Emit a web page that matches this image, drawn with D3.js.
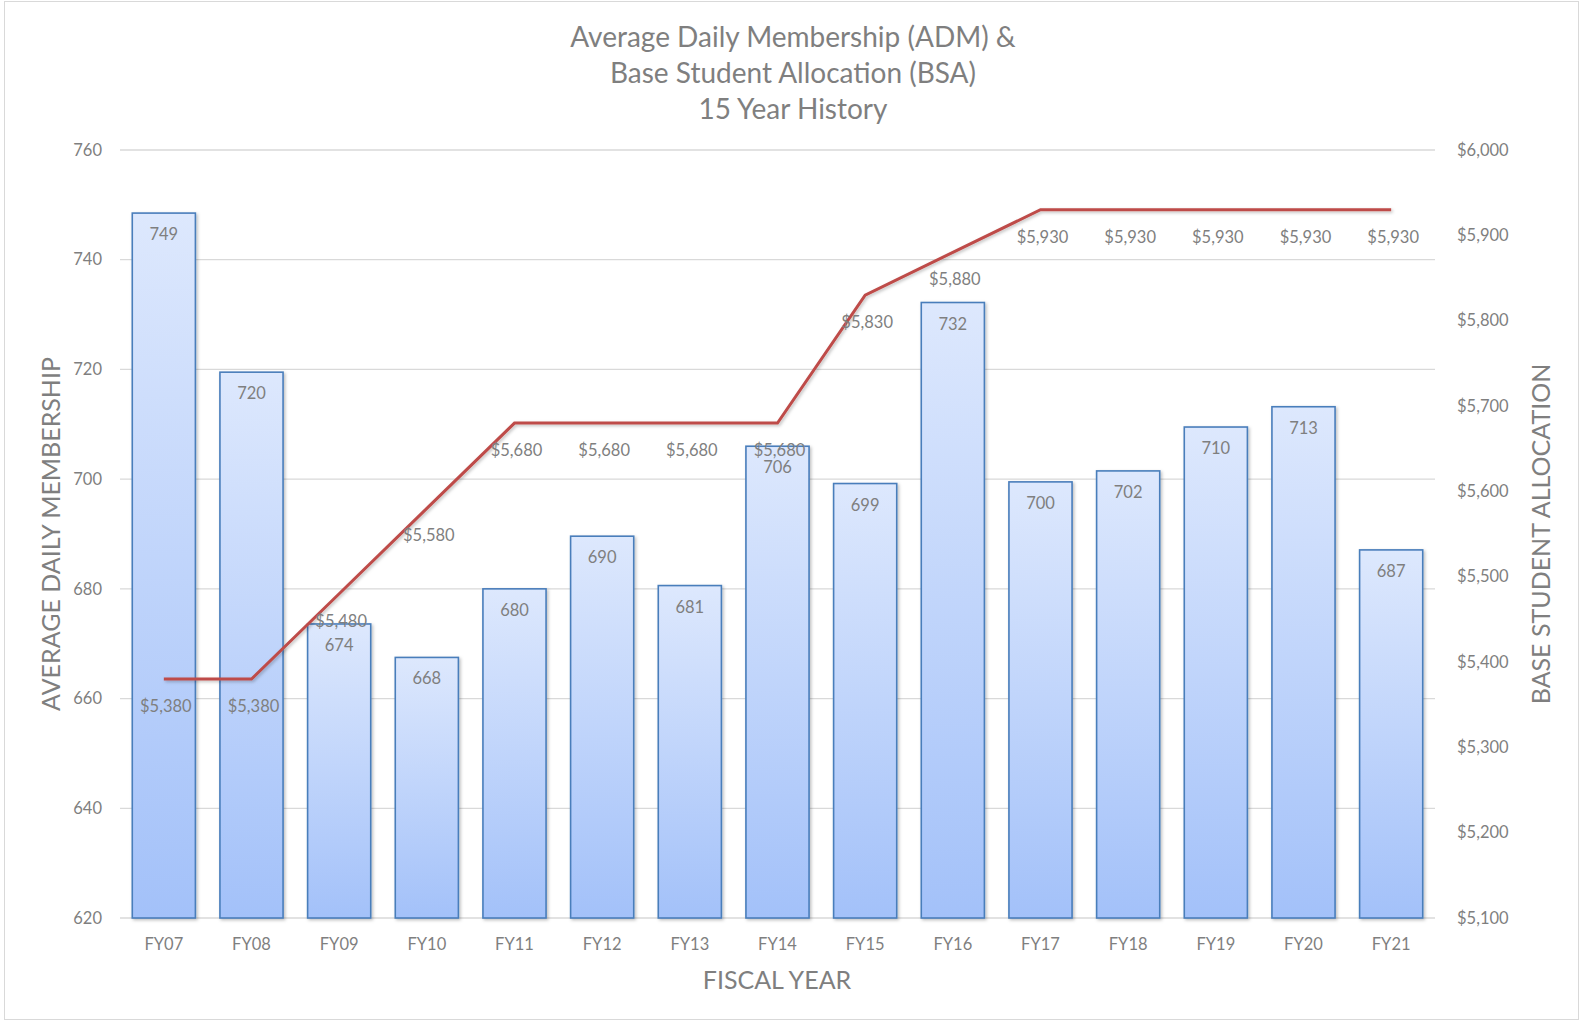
<!DOCTYPE html>
<html>
<head>
<meta charset="utf-8">
<script src="https://cdn.jsdelivr.net/npm/d3@7"></script>
<style>
  body { margin: 0; background: #fff; }
  text { font-family: Lato, "Open Sans", sans-serif; fill: #7f7f7f; }
</style>
</head>
<body>
<div class="container"></div>
<script>
const years = ["FY07","FY08","FY09","FY10","FY11","FY12","FY13","FY14","FY15","FY16","FY17","FY18","FY19","FY20","FY21"];
// ADM values (labels show them rounded)
const adm = [748.5, 719.5, 673.6, 667.5, 680.0, 689.6, 680.6, 706.0, 699.2, 732.2, 699.5, 701.5, 709.5, 713.2, 687.1];
const bsa = [5380, 5380, 5480, 5580, 5680, 5680, 5680, 5680, 5830, 5880, 5930, 5930, 5930, 5930, 5930];
const leftTicks = [620, 640, 660, 680, 700, 720, 740, 760];
const rightTicks = [5100, 5200, 5300, 5400, 5500, 5600, 5700, 5800, 5900, 6000];
const titleLines = ["Average Daily Membership (ADM) &", "Base Student Allocation (BSA)", "15 Year History"];

const W = 1583, H = 1022;
const margin = {top: 150, right: 148, bottom: 104, left: 120};
const width = W - margin.left - margin.right;
const height = H - margin.top - margin.bottom;

const svg = d3.select(".container")
  .append("svg")
    .attr("width", W)
    .attr("height", H);

const defs = svg.append("defs");
const grad = defs.append("linearGradient")
  .attr("id", "barGrad")
  .attr("x1", 0).attr("y1", 0).attr("x2", 0).attr("y2", 1);
grad.append("stop").attr("offset", "0%").attr("stop-color", "#dde8fd");
grad.append("stop").attr("offset", "100%").attr("stop-color", "#a3c1f9");

const shadow = defs.append("filter").attr("id", "shadow")
  .attr("x", "-20%").attr("y", "-20%").attr("width", "140%").attr("height", "140%");
shadow.append("feDropShadow")
  .attr("dx", 1.5).attr("dy", 1.5).attr("stdDeviation", 1.5)
  .attr("flood-color", "#000").attr("flood-opacity", 0.25);

// outer border
svg.append("rect")
  .attr("x", 4.5).attr("y", 1.5)
  .attr("width", 1574).attr("height", 1018)
  .attr("fill", "none")
  .attr("stroke", "#d9d9d9");

const g = svg.append("g")
  .attr("transform", "translate(" + margin.left + "," + margin.top + ")");

const x = d3.scaleBand()
  .domain(years)
  .range([0, width])
  .paddingInner(0.28)
  .paddingOuter(0.14);

const yL = d3.scaleLinear().domain([620, 760]).range([height, 0]);
const yR = d3.scaleLinear().domain([5100, 6000]).range([height, 0]);

// gridlines
g.append("g")
  .selectAll("line")
  .data(leftTicks)
  .join("line")
    .attr("x1", 0).attr("x2", width)
    .attr("y1", d => yL(d)).attr("y2", d => yL(d))
    .attr("stroke", "#d9d9d9")
    .attr("stroke-width", 1.3);

// left axis
const axL = g.append("g")
  .call(d3.axisLeft(yL).tickValues(leftTicks).tickSize(0).tickPadding(18));
axL.select(".domain").remove();
axL.selectAll("text").style("font-size", "16.5px").attr("fill", "#7f7f7f");

// right axis
const axR = g.append("g")
  .attr("transform", "translate(" + width + ",0)")
  .call(d3.axisRight(yR).tickValues(rightTicks).tickSize(0).tickPadding(22)
    .tickFormat(d => "$" + d3.format(",")(d)));
axR.select(".domain").remove();
axR.selectAll("text").style("font-size", "16.5px").attr("fill", "#7f7f7f");

// bottom axis
const axB = g.append("g")
  .attr("transform", "translate(0," + height + ")")
  .call(d3.axisBottom(x).tickSize(0).tickPadding(20));
axB.select(".domain").remove();
axB.selectAll("text").style("font-size", "16.5px").attr("fill", "#7f7f7f");

// bars
g.append("g")
  .selectAll("rect")
  .data(adm)
  .join("rect")
    .attr("x", (d, i) => x(years[i]))
    .attr("y", d => yL(d))
    .attr("width", x.bandwidth())
    .attr("height", d => height - yL(d))
    .attr("fill", "url(#barGrad)")
    .attr("stroke", "#4a7ebb")
    .attr("stroke-width", 1.6)
    .attr("filter", "url(#shadow)");

g.append("g")
  .selectAll("text")
  .data(adm)
  .join("text")
    .attr("x", (d, i) => x(years[i]) + x.bandwidth() / 2)
    .attr("y", d => yL(d) + 21)
    .attr("text-anchor", "middle")
    .attr("dominant-baseline", "central")
    .style("font-size", "16.5px")
    .text(d => Math.round(d));

// BSA line
const line = d3.line()
  .x((d, i) => x(years[i]) + x.bandwidth() / 2)
  .y(d => yR(d));

g.append("path")
  .datum(bsa)
  .attr("d", line)
  .attr("fill", "none")
  .attr("stroke", "#be4b48")
  .attr("stroke-width", 3)
  .attr("filter", "url(#shadow)");

g.append("g")
  .selectAll("text")
  .data(bsa)
  .join("text")
    .attr("x", (d, i) => x(years[i]) + x.bandwidth() / 2 + 2)
    .attr("y", d => yR(d) + 27)
    .attr("text-anchor", "middle")
    .attr("dominant-baseline", "central")
    .style("font-size", "16.5px")
    .text(d => "$" + d3.format(",")(d));

// title
svg.append("g")
  .selectAll("text")
  .data(titleLines)
  .join("text")
    .attr("x", 793)
    .attr("y", (d, i) => 36 + i * 36)
    .attr("text-anchor", "middle")
    .attr("dominant-baseline", "central")
    .style("font-size", "28px")
    .attr("fill", "#595959")
    .text(d => d);

// axis titles
svg.append("text")
  .attr("transform", "translate(50," + (margin.top + height / 2) + ") rotate(-90)")
  .attr("text-anchor", "middle")
  .attr("dominant-baseline", "central")
  .style("font-size", "25px")
  .attr("fill", "#595959")
  .text("AVERAGE DAILY MEMBERSHIP");

svg.append("text")
  .attr("transform", "translate(1540," + (margin.top + height / 2) + ") rotate(-90)")
  .attr("text-anchor", "middle")
  .attr("dominant-baseline", "central")
  .style("font-size", "25px")
  .attr("fill", "#595959")
  .text("BASE STUDENT ALLOCATION");

svg.append("text")
  .attr("x", 777)
  .attr("y", 979)
  .attr("text-anchor", "middle")
  .attr("dominant-baseline", "central")
  .style("font-size", "25px")
  .attr("fill", "#595959")
  .text("FISCAL YEAR");
</script>
</body>
</html>
